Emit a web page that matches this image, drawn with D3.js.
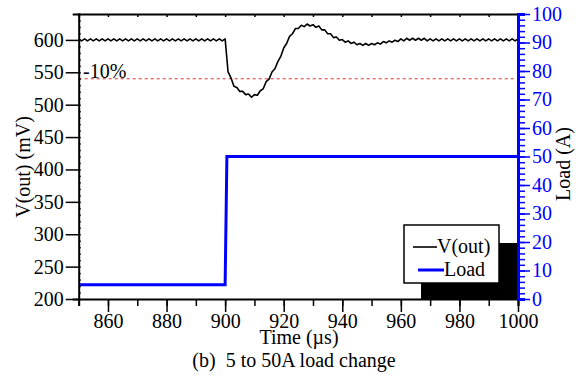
<!DOCTYPE html>
<html>
<head>
<meta charset="utf-8">
<script src="https://cdn.jsdelivr.net/npm/d3@7"></script>
<style>
  body { margin: 0; background: #fff; }
  svg text { font-family: "Liberation Serif", "Times New Roman", serif; }
</style>
</head>
<body>
<div id="chart"></div>
<script>
// time axis samples, 1 us step (850..1000)
var times = d3.range(850, 1001, 1);

// V(out) in mV, one value per microsecond (ripple included)
var vout = [
  601.5, 598.5, 601.5, 598.5, 601.5, 598.5, 601.5, 598.5, 601.5, 598.5,
  601.5, 598.5, 601.5, 598.5, 601.5, 598.5, 601.5, 598.5, 601.5, 598.5,
  601.5, 598.5, 601.5, 598.5, 601.5, 598.5, 601.5, 598.5, 601.5, 598.5,
  601.5, 598.5, 601.5, 598.5, 601.5, 598.5, 601.5, 598.5, 601.5, 598.5,
  601.5, 598.5, 601.5, 598.5, 601.5, 598.5, 601.5, 598.5, 601.5, 598.5,
  601.5, 550.5, 541.5, 528.5, 526.5, 520.5, 520.5, 515.5, 516.5, 511.5,
  515.5, 514.5, 521.5, 524.5, 535.5, 539.5, 550.5, 555.5, 566.5, 574.5,
  587.5, 594.5, 605.5, 609.5, 617.5, 617.5, 622.5, 620.5, 624.5, 621.5,
  623.5, 619.5, 621.5, 615.5, 615.5, 609.5, 609.5, 603.5, 604.5, 599.5,
  600.5, 596.5, 598.5, 594.5, 596.5, 592.5, 594.5, 591.5, 594.5, 591.5,
  594.5, 592.5, 595.5, 593.5, 597.5, 595.5, 598.5, 596.5, 599.5, 597.5,
  601.5, 598.5, 602.5, 599.5, 602.5, 599.5, 602.5, 599.5, 602.5, 598.5,
  601.5, 598.5, 601.5, 598.5, 601.5, 598.5, 601.5, 598.5, 601.5, 598.5,
  601.5, 598.5, 601.5, 598.5, 601.5, 598.5, 601.5, 598.5, 601.5, 598.5,
  601.5, 598.5, 601.5, 598.5, 601.5, 598.5, 601.5, 598.5, 601.5, 598.5,
  601.5
];

// load current step (A)
var loadT = [850, 900, 900.6, 1000];
var loadA = [5, 5, 50, 50];

var limitMv = 540;   // -10% of 600 mV
var xTicks = [860, 880, 900, 920, 940, 960, 980, 1000];
var leftTicks = [200, 250, 300, 350, 400, 450, 500, 550, 600];
var rightTicks = [0, 10, 20, 30, 40, 50, 60, 70, 80, 90, 100];

var W = 579, H = 377;
var L = 78.7, R = 518, T = 14, B = 299;
var blue = "#0000ff";
var fs = 20;

var svg = d3.select("#chart").append("svg")
  .attr("width", W).attr("height", H);

var x = d3.scaleLinear().domain([850, 1000]).range([L, R]);
var y = d3.scaleLinear().domain([200, 640]).range([B, T]);
var y2 = d3.scaleLinear().domain([0, 100]).range([B, T]);

svg.append("clipPath").attr("id", "clip")
  .append("rect").attr("x", L).attr("y", T).attr("width", R - L).attr("height", B - T);

// -10% limit
svg.append("line")
  .attr("x1", L).attr("x2", R - 2)
  .attr("y1", y(limitMv)).attr("y2", y(limitMv))
  .attr("stroke", "#e03030").attr("stroke-width", 1)
  .attr("stroke-dasharray", "3,3");

svg.append("text")
  .attr("x", 83).attr("y", 78)
  .attr("font-size", fs)
  .text("-10%");

// load line
var loadData = loadT.map((t, i) => [t, loadA[i]]);
svg.append("path")
  .datum(loadData)
  .attr("clip-path", "url(#clip)")
  .attr("fill", "none")
  .attr("stroke", blue).attr("stroke-width", 3)
  .attr("d", d3.line().x(d => x(d[0])).y(d => y2(d[1])));

// vout line
var voutData = times.map((t, i) => [t, vout[i]]);
svg.append("path")
  .datum(voutData)
  .attr("clip-path", "url(#clip)")
  .attr("fill", "none")
  .attr("stroke", "#000").attr("stroke-width", 1.6)
  .attr("stroke-linejoin", "round")
  .attr("d", d3.line().x(d => x(d[0])).y(d => y(d[1])));

// legend shadow + box
svg.append("rect")
  .attr("x", 421).attr("y", 243).attr("width", R - 421).attr("height", B - 243)
  .attr("fill", "#000");
svg.append("rect")
  .attr("x", 404).attr("y", 225).attr("width", 95).attr("height", 58)
  .attr("fill", "#fff").attr("stroke", "#000").attr("stroke-width", 1.5);
svg.append("line").attr("x1", 413).attr("x2", 437).attr("y1", 247).attr("y2", 247)
  .attr("stroke", "#000").attr("stroke-width", 1.6);
svg.append("text").attr("x", 437).attr("y", 253).attr("font-size", fs).text("V(out)");
svg.append("line").attr("x1", 418).attr("x2", 444).attr("y1", 270).attr("y2", 270)
  .attr("stroke", blue).attr("stroke-width", 3);
svg.append("text").attr("x", 444).attr("y", 276).attr("font-size", fs).text("Load");

// top frame line with small ticks
svg.append("g")
  .attr("transform", "translate(0," + T + ")")
  .call(d3.axisBottom(x).tickValues(d3.range(850, 1001, 10)).tickSize(3).tickFormat(""))
  .call(g => g.select(".domain").attr("stroke-width", 2))
  .call(g => g.selectAll(".tick line").attr("stroke-width", 1.5));

// bottom axis
var gx = svg.append("g").attr("transform", "translate(0," + B + ")");
gx.call(d3.axisBottom(x).tickValues(d3.range(850, 1001, 10)).tickSize(7).tickFormat(""))
  .call(g => g.select(".domain").attr("stroke-width", 2))
  .call(g => g.selectAll(".tick line").attr("stroke-width", 1.5));
gx.append("g")
  .call(d3.axisBottom(x).tickValues(xTicks).tickSize(13).tickPadding(2).tickFormat(d3.format("d")))
  .call(g => g.select(".domain").remove())
  .call(g => g.selectAll(".tick line").attr("stroke-width", 1.5))
  .call(g => g.selectAll("text").attr("font-size", fs).attr("fill", "#000")
    .attr("font-family", "Liberation Serif"));

// left axis
var gy = svg.append("g").attr("transform", "translate(" + L + ",0)");
gy.call(d3.axisLeft(y).tickValues(d3.range(200, 641, 10)).tickSize(6).tickFormat(""))
  .call(g => g.select(".domain").attr("stroke-width", 2))
  .call(g => g.selectAll(".tick line").attr("stroke-width", 1.5).attr("x2", 2));
gy.append("g")
  .call(d3.axisLeft(y).tickValues(leftTicks).tickSize(13).tickPadding(2))
  .call(g => g.select(".domain").remove())
  .call(g => g.selectAll(".tick line").attr("stroke-width", 1.5))
  .call(g => g.selectAll("text").attr("font-size", fs).attr("fill", "#000")
    .attr("font-family", "Liberation Serif"));

// right axis (blue)
var gr = svg.append("g").attr("transform", "translate(" + R + ",0)");
gr.call(d3.axisRight(y2).tickValues(d3.range(0, 101, 2)).tickSize(7).tickFormat(""))
  .call(g => g.select(".domain").attr("stroke", blue).attr("stroke-width", 3))
  .call(g => g.selectAll(".tick line").attr("stroke", blue).attr("stroke-width", 1.5));
gr.append("g")
  .call(d3.axisRight(y2).tickValues(rightTicks).tickSize(12).tickPadding(2))
  .call(g => g.select(".domain").remove())
  .call(g => g.selectAll(".tick line").attr("stroke", blue).attr("stroke-width", 1.5))
  .call(g => g.selectAll("text").attr("font-size", fs).attr("fill", blue)
    .attr("font-family", "Liberation Serif"));

// axis titles
svg.append("text")
  .attr("transform", "translate(30,167) rotate(-90)")
  .attr("text-anchor", "middle").attr("font-size", fs)
  .text("V(out) (mV)");
svg.append("text")
  .attr("transform", "translate(570,164) rotate(-90)")
  .attr("text-anchor", "middle").attr("font-size", fs)
  .text("Load (A)");
svg.append("text")
  .attr("x", 299).attr("y", 344)
  .attr("text-anchor", "middle").attr("font-size", fs)
  .text("Time (\u00b5s)");
svg.append("text")
  .attr("x", 294).attr("y", 367)
  .attr("text-anchor", "middle").attr("font-size", fs)
  .attr("xml:space", "preserve")
  .text("(b)  5 to 50A load change");
</script>
</body>
</html>
